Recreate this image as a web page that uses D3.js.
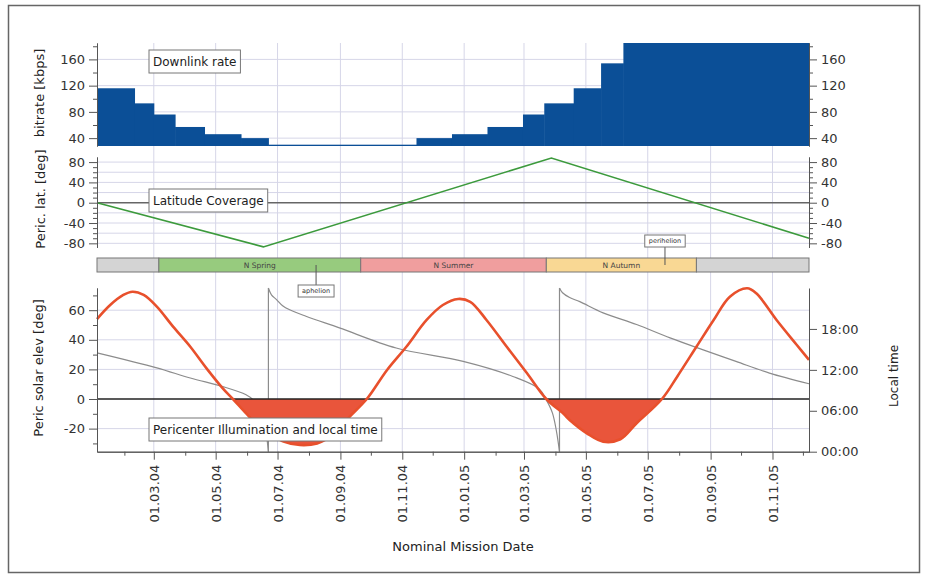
<!DOCTYPE html>
<html>
<head>
<meta charset="utf-8">
<script src="https://cdn.jsdelivr.net/npm/d3@7"></script>
<style>
  body { margin: 0; background: #fff; }
  svg { display: block; font-family: "DejaVu Sans", Verdana, sans-serif; }
</style>
</head>
<body>
<svg id="chart" width="928" height="578"></svg>
<script>
// downlink rate, one step per entry (start date, kbps)
const rateStart = ["2004-01-05","2004-02-11","2004-03-01","2004-03-22","2004-04-20","2004-05-26","2004-06-22",
                   "2004-11-15","2004-12-20","2005-01-24","2005-02-28","2005-03-21","2005-04-19","2005-05-16","2005-06-07"];
const rateEnd = "2005-12-07";
const rateValues = [116, 93, 76, 57, 46, 40, 30, 40, 46, 57, 76, 93, 116, 154, 185];

// pericenter latitude [deg]
const latDates = ["2004-01-05","2004-06-17","2005-03-28","2005-12-07"];
const latValues = [0, -87, 88, -70];

// martian seasons
const seasonStart = ["2004-01-05","2004-03-06","2004-09-21","2005-03-23","2005-08-18"];
const seasonEnd = "2005-12-07";
const seasonNames = ["", "N Spring", "N Summer", "N Autumn", ""];

const markerNames = ["aphelion", "perihelion"];
const markerDates = ["2004-08-08", "2005-07-18"];

// pericenter solar elevation [deg]
const elevDates = ["2004-01-05","2004-01-18","2004-01-31","2004-02-09","2004-02-20","2004-03-04","2004-03-20","2004-04-06",
                   "2004-04-22","2004-05-08","2004-05-18","2004-05-31","2004-06-10","2004-06-24","2004-07-07","2004-07-23",
                   "2004-08-09","2004-08-25","2004-09-10","2004-09-27","2004-10-17","2004-11-05","2004-11-25","2004-12-11",
                   "2004-12-26","2005-01-07","2005-01-23","2005-02-12","2005-03-04","2005-03-23","2005-04-09","2005-04-15",
                   "2005-05-02","2005-05-18","2005-06-04","2005-06-20","2005-07-15","2005-07-30","2005-08-18","2005-09-04",
                   "2005-09-20","2005-10-07","2005-10-16","2005-11-05","2005-11-25","2005-12-07"];
const elevValues = [54, 63.5, 70.3, 72.5, 70.3, 62.4, 48.9, 35.3,
                    20.7, 7.2, 0, -9.7, -16.4, -23.2, -28.8, -31.1,
                    -30, -24, -12, 0, 19.6, 35.3, 53.4, 63.5,
                    67.6, 65.7, 53.4, 35.3, 17.4, 0, -10, -14.2,
                    -23.2, -28.8, -27.2, -16.4, 0, 15.1, 35.3, 53.4,
                    69.1, 74.8, 71.4, 53.4, 36.5, 26.4];

// pericenter local time [h]
const ltDates = ["2004-01-05","2004-03-04","2004-04-06","2004-05-08","2004-05-31","2004-06-07","2004-06-17","2004-06-22",
                 "2004-06-22","2004-06-25","2004-06-30","2004-07-06","2004-07-13","2004-07-29","2004-08-31","2004-10-26",
                 "2004-12-31","2005-02-18","2005-03-16","2005-03-23","2005-03-29","2005-04-02","2005-04-05",
                 "2005-04-05","2005-04-08","2005-04-15","2005-04-25","2005-05-18","2005-06-20","2005-07-23","2005-08-24",
                 "2005-09-26","2005-10-29","2005-12-07"];
const ltValues = [14.5, 12.3, 10.8, 9.55, 8.35, 7.6, 4.66, 0,
                  24, 23.0, 22.3, 21.4, 20.8, 19.86, 18.15, 15.2,
                  13.24, 11.03, 9.2, 7.6, 5.7, 3.0, 0,
                  24, 23.3, 22.6, 22.0, 20.36, 18.64, 16.68, 14.96,
                  13.24, 11.53, 9.96];

const rateTicks = [40, 80, 120, 160];
const rateMinor = [60, 100, 140, 180];
const latTicks = [-80, -40, 0, 40, 80];
const elevTicks = [-20, 0, 20, 40, 60];
const elevMinor = [-30, -10, 10, 30, 50, 70];
const ltTicks = [0, 6, 12, 18];

const parse = d3.utcParse("%Y-%m-%d");
const svg = d3.select("#chart");
const left = 97, right = 809;

const x = d3.scaleUtc().domain([parse("2004-01-05"), parse("2005-12-07")]).range([left, right]);
const yRate = d3.scaleLinear().domain([28, 185]).range([146, 43]);
const yLat = d3.scaleLinear().domain([-88, 90]).range([247.4, 157]);
const yElev = d3.scaleLinear().domain([-35.6, 75]).range([451.7, 288]);
const yLt = d3.scaleLinear().domain([0, 24]).range([451.7, 288]);

const gridColor = "#d6d6e8";
const axisColor = "#555";
const plain = d => String(d);   // hyphen minus like the original, not U+2212

svg.append("rect")
  .attr("x", 8.5).attr("y", 5.5).attr("width", 911).attr("height", 567)
  .attr("fill", "none").attr("stroke", "#666").attr("stroke-width", 1.5);

// grid
const grid = svg.append("g").attr("stroke", gridColor).attr("stroke-width", 1);
const majorDates = x.ticks(d3.utcMonth.every(2));
grid.selectAll(".vg").data(majorDates).join("line")
  .attr("x1", d => x(d)).attr("x2", d => x(d))
  .attr("y1", yRate.range()[1]).attr("y2", yElev.range()[0]);
grid.selectAll(".hr").data(rateTicks).join("line").attr("class", "hr")
  .attr("x1", left).attr("x2", right).attr("y1", d => yRate(d)).attr("y2", d => yRate(d));
grid.selectAll(".hl").data(d3.range(-80, 81, 20).filter(v => v !== 0)).join("line").attr("class", "hl")
  .attr("x1", left).attr("x2", right).attr("y1", d => yLat(d)).attr("y2", d => yLat(d));
grid.selectAll(".he").data(elevTicks.filter(v => v !== 0)).join("line").attr("class", "he")
  .attr("x1", left).attr("x2", right).attr("y1", d => yElev(d)).attr("y2", d => yElev(d));

// downlink rate bars
const rateData = rateStart.map((d, i) => ({
  start: parse(d), end: parse(i < rateStart.length - 1 ? rateStart[i + 1] : rateEnd), v: rateValues[i]
}));
svg.append("g").selectAll("rect").data(rateData).join("rect")
  .attr("x", d => x(d.start))
  .attr("width", d => x(d.end) - x(d.start) + 0.5)
  .attr("y", d => yRate(d.v))
  .attr("height", d => yRate.range()[0] - yRate(d.v))
  .attr("fill", "#0b4f97");

// latitude
svg.append("line")
  .attr("x1", left).attr("x2", right).attr("y1", yLat(0)).attr("y2", yLat(0))
  .attr("stroke", "#666").attr("stroke-width", 1.5);
const latData = latDates.map((d, i) => ({date: parse(d), v: latValues[i]}));
svg.append("path").datum(latData)
  .attr("fill", "none").attr("stroke", "#3c9a3c").attr("stroke-width", 1.6)
  .attr("d", d3.line().x(d => x(d.date)).y(d => yLat(d.v)));

// seasons bar
const barTop = 258, barH = 14;
const seasonFill = {"": "#d4d4d4", "N Spring": "#97cb7e", "N Summer": "#f09e9e", "N Autumn": "#f9d894"};
const seasonData = seasonStart.map((d, i) => ({
  start: parse(d), end: parse(i < seasonStart.length - 1 ? seasonStart[i + 1] : seasonEnd), name: seasonNames[i]
}));
const sg = svg.append("g");
sg.selectAll("rect").data(seasonData).join("rect")
  .attr("x", d => x(d.start)).attr("width", d => x(d.end) - x(d.start))
  .attr("y", barTop).attr("height", barH)
  .attr("fill", d => seasonFill[d.name]).attr("stroke", "#777").attr("stroke-width", 1);
sg.selectAll("text").data(seasonData.filter(d => d.name)).join("text")
  .attr("x", d => (x(d.start) + x(d.end)) / 2).attr("y", barTop + barH / 2)
  .attr("dy", "0.35em").attr("text-anchor", "middle")
  .attr("font-size", 7.5).attr("fill", "#444").text(d => d.name);

const markerBoxY = {aphelion: 285, perihelion: 235};
const mg = svg.append("g");
markerNames.forEach((name, i) => {
  const mx = x(parse(markerDates[i]));
  const by = markerBoxY[name];
  const g = mg.append("g");
  const t = g.append("text").attr("font-size", 6.5).attr("fill", "#333")
    .attr("text-anchor", "middle").attr("x", mx).attr("y", by + 6).attr("dy", "0.35em").text(name);
  const w = t.node().getComputedTextLength() + 8;
  g.insert("rect", "text").attr("x", mx - w / 2).attr("y", by).attr("width", w).attr("height", 12)
    .attr("fill", "#fff").attr("stroke", "#777").attr("stroke-width", 1);
  const y1 = barTop + barH / 2;
  const y2 = by < barTop ? by + 12 : by;
  g.insert("line", "rect").attr("x1", mx).attr("x2", mx).attr("y1", y1).attr("y2", y2)
    .attr("stroke", "#555").attr("stroke-width", 1);
});

// local time (gray), split where the curve wraps at 24h
const ltData = ltDates.map((d, i) => ({date: parse(d), v: ltValues[i]}));
const runs = [[]];
ltData.forEach((d, i) => {
  if (i > 0 && +d.date === +ltData[i - 1].date) runs.push([]);
  runs[runs.length - 1].push(d);
});
const ltLine = d3.line().x(d => x(d.date)).y(d => yLt(d.v)).curve(d3.curveCatmullRom.alpha(0.5));
const lg = svg.append("g").attr("fill", "none").attr("stroke", "#8c8c8c").attr("stroke-width", 1.2);
runs.forEach((run, k) => {
  lg.append("path").attr("d", ltLine(run));
  if (k > 0) lg.append("path").attr("d", d3.line().x(d => x(d.date)).y(d => yLt(d.v))([runs[k - 1][runs[k - 1].length - 1], run[0]]));
});

// solar elevation with night side filled
const elevData = elevDates.map((d, i) => ({date: parse(d), v: elevValues[i]}));
const elevCurve = d3.curveCatmullRom.alpha(0.5);
svg.append("clipPath").attr("id", "below").append("rect")
  .attr("x", left).attr("y", yElev(0)).attr("width", right - left).attr("height", yElev.range()[0] - yElev(0));
svg.append("path").datum(elevData)
  .attr("clip-path", "url(#below)")
  .attr("fill", "#e9553b")
  .attr("d", d3.area().x(d => x(d.date)).y0(yElev(0)).y1(d => yElev(d.v)).curve(elevCurve));
svg.append("line")
  .attr("x1", left).attr("x2", right).attr("y1", yElev(0)).attr("y2", yElev(0))
  .attr("stroke", "#222").attr("stroke-width", 1.5);
svg.append("path").datum(elevData)
  .attr("fill", "none").attr("stroke", "#e8502c").attr("stroke-width", 2.6)
  .attr("d", d3.line().x(d => x(d.date)).y(d => yElev(d.v)).curve(elevCurve));

// axes
function styleAxis(g) {
  g.select(".domain").attr("stroke", axisColor);
  g.selectAll(".tick line").attr("stroke", axisColor);
  g.selectAll(".tick text").attr("font-size", 13).attr("fill", "#333").attr("font-family", "DejaVu Sans, Verdana, sans-serif");
}
function yAxisPair(scale, major, minor) {
  svg.append("g").attr("transform", `translate(${left},0)`)
    .call(d3.axisLeft(scale).tickValues(major).tickFormat(plain).tickSize(8).tickPadding(4).tickSizeOuter(0)).call(styleAxis);
  svg.append("g").attr("transform", `translate(${left},0)`)
    .call(d3.axisLeft(scale).tickValues(minor).tickSize(4).tickFormat("").tickSizeOuter(0)).call(styleAxis);
  svg.append("g").attr("transform", `translate(${right},0)`)
    .call(d3.axisRight(scale).tickValues(major).tickFormat(plain).tickSize(8).tickPadding(4).tickSizeOuter(0)).call(styleAxis);
  svg.append("g").attr("transform", `translate(${right},0)`)
    .call(d3.axisRight(scale).tickValues(minor).tickSize(4).tickFormat("").tickSizeOuter(0)).call(styleAxis);
}
yAxisPair(yRate, rateTicks, rateMinor);
yAxisPair(yLat, latTicks, d3.range(-80, 81, 10).filter(v => !latTicks.includes(v)));

svg.append("g").attr("transform", `translate(${left},0)`)
  .call(d3.axisLeft(yElev).tickValues(elevTicks).tickFormat(plain).tickSize(8).tickPadding(4).tickSizeOuter(0)).call(styleAxis);
svg.append("g").attr("transform", `translate(${left},0)`)
  .call(d3.axisLeft(yElev).tickValues(elevMinor).tickSize(4).tickFormat("").tickSizeOuter(0)).call(styleAxis);
svg.append("g").attr("transform", `translate(${right},0)`)
  .call(d3.axisRight(yLt).tickValues(ltTicks).tickSize(8).tickPadding(4).tickSizeOuter(0)
    .tickFormat(h => d3.format("02")(h) + ":00")).call(styleAxis);

const minorDates = d3.utcMonth.range(...x.domain()).filter(d => d.getUTCMonth() % 2 === 1);
svg.append("g").attr("transform", `translate(0,${yElev.range()[0]})`)
  .call(d3.axisBottom(x).tickValues(minorDates).tickSize(4).tickFormat("").tickSizeOuter(0)).call(styleAxis);
svg.append("g").attr("transform", `translate(0,${yElev.range()[0]})`)
  .call(d3.axisBottom(x).tickValues(majorDates).tickSize(8).tickSizeOuter(0).tickFormat(d3.utcFormat("%d.%m.%y")))
  .call(styleAxis)
  .selectAll(".tick text")
  .attr("transform", "rotate(-90)")
  .attr("text-anchor", "end")
  .attr("x", -13).attr("y", 0).attr("dy", "0.35em");

// annotation boxes
function labelBox(text, bx, by) {
  const g = svg.append("g");
  const t = g.append("text").attr("x", bx + 4).attr("y", by + 11.5).attr("dy", "0.35em")
    .attr("font-size", 12).attr("fill", "#222").text(text);
  const w = t.node().getComputedTextLength() + 8;
  g.insert("rect", "text").attr("x", bx).attr("y", by).attr("width", w).attr("height", 23)
    .attr("fill", "#fff").attr("stroke", "#777").attr("stroke-width", 1);
}
labelBox("Downlink rate", 149, 50);
labelBox("Latitude Coverage", 149, 189);
labelBox("Pericenter Illumination and local time", 149, 418);

// axis titles
function vTitle(text, cx, cy, size) {
  svg.append("text").attr("transform", `translate(${cx},${cy}) rotate(-90)`)
    .attr("text-anchor", "middle").attr("dy", "0.35em")
    .attr("font-size", size).attr("fill", "#222").text(text);
}
vTitle("bitrate [kbps]", 39, 93, 13);
vTitle("Peric. lat. [deg]", 40, 199, 13);
vTitle("Peric solar elev [deg]", 38, 368, 13);
vTitle("Local time", 894, 376, 12);

svg.append("text").attr("x", 463).attr("y", 551).attr("text-anchor", "middle")
  .attr("font-size", 13).attr("fill", "#222").text("Nominal Mission Date");
</script>
</body>
</html>
